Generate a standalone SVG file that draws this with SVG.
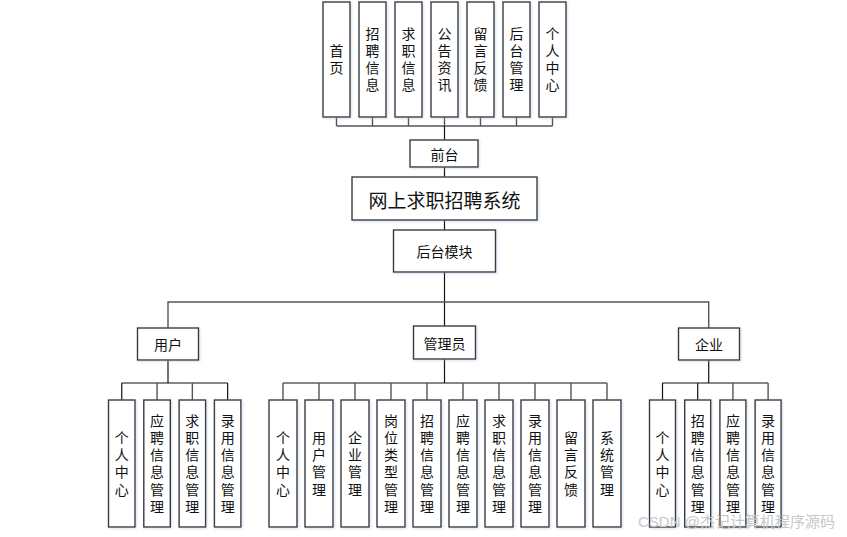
<svg xmlns="http://www.w3.org/2000/svg" width="847" height="537" viewBox="0 0 847 537">
<defs>
<filter id="sh" x="-20%" y="-20%" width="140%" height="140%">
<feDropShadow dx="1" dy="1" stdDeviation="1.2" flood-color="#9fb6d8" flood-opacity="0.45"/>
</filter>
</defs>
<style>
rect{fill:#fff;stroke:#3a3a3a;stroke-width:1.4}
.n rect{filter:url(#sh)}
text{font-family:"Noto Sans CJK SC","Noto Sans",sans-serif;font-size:14px;fill:#111;text-anchor:middle;dominant-baseline:central}
.v{writing-mode:vertical-rl;text-orientation:upright;dominant-baseline:auto;letter-spacing:3.2px}
.tv{letter-spacing:3px}
.t{font-size:19px}
.c line,.c polyline{stroke:#555;stroke-width:1.4;fill:none}
.c .k{stroke:#111;stroke-width:1.2}
.wm{font-size:15px;fill:#c8c8c8;text-anchor:start;font-family:"Liberation Sans","Noto Sans CJK SC",sans-serif}
</style>
<rect x="0" y="0" width="847" height="537" style="stroke:none;fill:#fff"/>
<g id="connectors" class="c">
<line x1="336.5" y1="117" x2="336.5" y2="126"/>
<line x1="372.5" y1="117" x2="372.5" y2="126"/>
<line x1="408.5" y1="117" x2="408.5" y2="126"/>
<line x1="444.5" y1="117" x2="444.5" y2="126"/>
<line x1="480.5" y1="117" x2="480.5" y2="126"/>
<line x1="516.5" y1="117" x2="516.5" y2="126"/>
<line x1="552.5" y1="117" x2="552.5" y2="126"/>
<line x1="336.5" y1="126" x2="552.5" y2="126"/>
<line class="k" x1="444.5" y1="126" x2="444.5" y2="140"/>
<line class="k" x1="444.5" y1="167" x2="444.5" y2="177"/>
<line class="k" x1="444.5" y1="220" x2="444.5" y2="230"/>
<line class="k" x1="444.5" y1="272" x2="444.5" y2="326"/>
<polyline points="168,328 168,302 708.7,302 708.7,328"/>
<line class="k" x1="168" y1="360" x2="168" y2="383"/>
<line class="k" x1="121.75" y1="383" x2="227.65" y2="383"/>
<line class="k" x1="121.75" y1="383" x2="121.75" y2="400"/>
<line x1="157.05" y1="383" x2="157.05" y2="400"/>
<line x1="192.35" y1="383" x2="192.35" y2="400"/>
<line class="k" x1="227.65" y1="383" x2="227.65" y2="400"/>
<line class="k" x1="444.5" y1="359" x2="444.5" y2="383"/>
<line class="k" x1="283" y1="383" x2="607" y2="383"/>
<line x1="283" y1="383" x2="283" y2="400"/>
<line x1="319" y1="383" x2="319" y2="400"/>
<line x1="355" y1="383" x2="355" y2="400"/>
<line x1="391" y1="383" x2="391" y2="400"/>
<line x1="427" y1="383" x2="427" y2="400"/>
<line x1="463" y1="383" x2="463" y2="400"/>
<line x1="499" y1="383" x2="499" y2="400"/>
<line x1="535" y1="383" x2="535" y2="400"/>
<line x1="571" y1="383" x2="571" y2="400"/>
<line x1="607" y1="383" x2="607" y2="400"/>
<line class="k" x1="708.7" y1="360" x2="708.7" y2="383"/>
<line class="k" x1="662.5" y1="383" x2="768.1" y2="383"/>
<line class="k" x1="662.5" y1="383" x2="662.5" y2="400"/>
<line class="k" x1="697.7" y1="383" x2="697.7" y2="400"/>
<line x1="732.9" y1="383" x2="732.9" y2="400"/>
<line x1="768.1" y1="383" x2="768.1" y2="400"/>
</g>
<g id="n-shouye" class="n"><rect x="323" y="2" width="27" height="115"/><text class="v tv" x="336.5" y="61">首页</text></g>
<g id="n-zhaopin" class="n"><rect x="359" y="2" width="27" height="115"/><text class="v tv" x="372.5" y="61">招聘信息</text></g>
<g id="n-qiuzhi" class="n"><rect x="395" y="2" width="27" height="115"/><text class="v tv" x="408.5" y="61">求职信息</text></g>
<g id="n-gonggao" class="n"><rect x="431" y="2" width="27" height="115"/><text class="v tv" x="444.5" y="61">公告资讯</text></g>
<g id="n-liuyan" class="n"><rect x="467" y="2" width="27" height="115"/><text class="v tv" x="480.5" y="61">留言反馈</text></g>
<g id="n-houtaiguanli" class="n"><rect x="503" y="2" width="27" height="115"/><text class="v tv" x="516.5" y="61">后台管理</text></g>
<g id="n-geren" class="n"><rect x="539" y="2" width="27" height="115"/><text class="v tv" x="552.5" y="61">个人中心</text></g>
<g id="n-qiantai" class="n"><rect x="410" y="140" width="68" height="27"/><text x="444.5" y="154">前台</text></g>
<g id="n-system" class="n"><rect x="352" y="177" width="185" height="43"/><text class="t" x="444.5" y="199">网上求职招聘系统</text></g>
<g id="n-houtai" class="n"><rect x="393.5" y="230" width="102" height="42"/><text x="444.5" y="251">后台模块</text></g>
<g id="n-user" class="n"><rect x="137.5" y="328" width="61" height="32"/><text x="168" y="344">用户</text></g>
<g id="n-admin" class="n"><rect x="413.5" y="326" width="62" height="33"/><text x="444.5" y="342.5">管理员</text></g>
<g id="n-company" class="n"><rect x="678.5" y="328" width="61" height="32"/><text x="709" y="344">企业</text></g>
<g id="u1" class="n"><rect x="108.5" y="400" width="26.5" height="127"/><text class="v" x="121.75" y="465">个人中心</text></g>
<g id="u2" class="n"><rect x="143.8" y="400" width="26.5" height="127"/><text class="v" x="157.05" y="465">应聘信息管理</text></g>
<g id="u3" class="n"><rect x="179.1" y="400" width="26.5" height="127"/><text class="v" x="192.35" y="465">求职信息管理</text></g>
<g id="u4" class="n"><rect x="214.4" y="400" width="26.5" height="127"/><text class="v" x="227.65" y="465">录用信息管理</text></g>
<g id="a1" class="n"><rect x="269" y="400" width="28" height="127"/><text class="v" x="283" y="465">个人中心</text></g>
<g id="a2" class="n"><rect x="305" y="400" width="28" height="127"/><text class="v" x="319" y="465">用户管理</text></g>
<g id="a3" class="n"><rect x="341" y="400" width="28" height="127"/><text class="v" x="355" y="465">企业管理</text></g>
<g id="a4" class="n"><rect x="377" y="400" width="28" height="127"/><text class="v" x="391" y="465">岗位类型管理</text></g>
<g id="a5" class="n"><rect x="413" y="400" width="28" height="127"/><text class="v" x="427" y="465">招聘信息管理</text></g>
<g id="a6" class="n"><rect x="449" y="400" width="28" height="127"/><text class="v" x="463" y="465">应聘信息管理</text></g>
<g id="a7" class="n"><rect x="485" y="400" width="28" height="127"/><text class="v" x="499" y="465">求职信息管理</text></g>
<g id="a8" class="n"><rect x="521" y="400" width="28" height="127"/><text class="v" x="535" y="465">录用信息管理</text></g>
<g id="a9" class="n"><rect x="557" y="400" width="28" height="127"/><text class="v" x="571" y="465">留言反馈</text></g>
<g id="a10" class="n"><rect x="593" y="400" width="28" height="127"/><text class="v" x="607" y="465">系统管理</text></g>
<g id="e1" class="n"><rect x="649.5" y="400" width="26" height="127"/><text class="v" x="662.5" y="465">个人中心</text></g>
<g id="e2" class="n"><rect x="684.7" y="400" width="26" height="127"/><text class="v" x="697.7" y="465">招聘信息管理</text></g>
<g id="e3" class="n"><rect x="719.9" y="400" width="26" height="127"/><text class="v" x="732.9" y="465">应聘信息管理</text></g>
<g id="e4" class="n"><rect x="755.1" y="400" width="26" height="127"/><text class="v" x="768.1" y="465">录用信息管理</text></g>
<text class="wm" x="638" y="521">CSDN @杰记计算机程序源码</text>
</svg>
